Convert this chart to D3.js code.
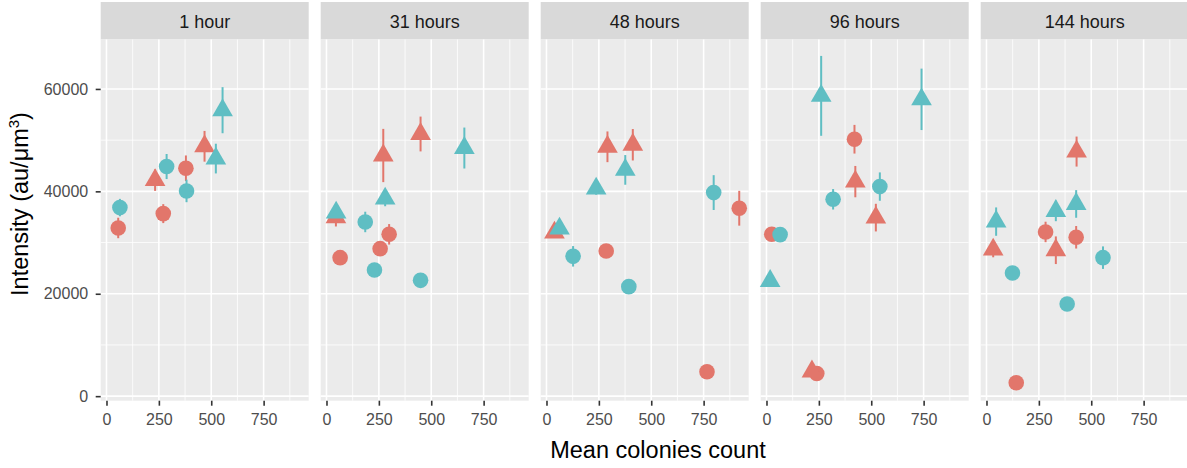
<!DOCTYPE html>
<html>
<head>
<meta charset="utf-8">
<script src="https://cdn.jsdelivr.net/npm/d3@7"></script>
<style>
  body { margin: 0; background: #fff; }
  svg { display: block; font-family: "Liberation Sans", Arial, Helvetica, sans-serif; }
</style>
</head>
<body>
<svg id="chart" width="1187" height="468"></svg>
<script>
// Facet labels, one panel per timepoint
const timepoints = ["1 hour", "31 hours", "48 hours", "96 hours", "144 hours"];
const xTicks = [0, 250, 500, 750];
const xMinor = [125, 375, 625, 875];
const yTicks = [0, 20000, 40000, 60000];
const yMinor = [10000, 30000, 50000];

// Rows: [timepoint index, mean colonies count, intensity, half-width of error bar]
const redCircles = [
  [0, 56, 32850, 2000], [0, 271, 35650, 1850], [0, 379, 44510, 2500],
  [1, 65, 27050, 500], [1, 256, 28810, 1000], [1, 299, 31610, 2000],
  [2, 285, 28350, 1300], [2, 920, 36700, 3400], [2, 766, 4770, 300],
  [3, 25, 31610, 1300], [3, 240, 4440, 300], [3, 420, 50180, 2800],
  [4, 142, 2620, 300], [4, 282, 32070, 2000], [4, 428, 31030, 2200]
];
const redTriangles = [
  [0, 232, 42190, 2100], [0, 468, 48800, 3000],
  [1, 45, 34940, 1800], [1, 271, 47000, 5200], [1, 449, 51200, 3400],
  [2, 38, 31940, 900], [2, 291, 48700, 3000], [2, 412, 49100, 3070],
  [3, 217, 4830, 400], [3, 424, 41900, 3060], [3, 522, 34870, 2700],
  [4, 32, 28620, 1500], [4, 331, 28500, 2700], [4, 430, 47770, 2930]
];
const tealCircles = [
  [0, 64, 36830, 1700], [0, 287, 44850, 2450], [0, 382, 40080, 2200],
  [1, 185, 34020, 2000], [1, 229, 24640, 400], [1, 449, 22620, 400],
  [2, 127, 27310, 2000], [2, 393, 21390, 1000], [2, 798, 39760, 3400],
  [3, 65, 31550, 1300], [3, 318, 38450, 2000], [3, 541, 40930, 2770],
  [4, 124, 24050, 400], [4, 385, 17990, 400], [4, 556, 27050, 2200]
];
const tealTriangles = [
  [0, 522, 46400, 2900], [0, 554, 55850, 4500],
  [1, 46, 35850, 800], [1, 280, 38590, 1500], [1, 658, 48460, 4000],
  [2, 62, 32720, 800], [2, 237, 40540, 1200], [2, 376, 44190, 2900],
  [3, 17.5, 22490, 1000], [3, 261, 58650, 7800], [3, 740, 57970, 6000],
  [4, 46, 34090, 2770], [4, 331, 36170, 2000], [4, 428, 37540, 2700]
];

const RED = "#E2766B", TEAL = "#5FBEC3";
const series = [
  { rows: redCircles, color: RED, shape: "circle" },
  { rows: redTriangles, color: RED, shape: "triangle" },
  { rows: tealCircles, color: TEAL, shape: "circle" },
  { rows: tealTriangles, color: TEAL, shape: "triangle" }
];

// Layout
const panelLeft = 100.7, panelW = 208, panelGap = 12;
const stripTop = 2, stripH = 37.5;
const panelTop = stripTop + stripH, panelBottom = 400.7;

// Shared scales with 5% padding on each side of the data range
const allRows = series.flatMap(s => s.rows);
const xMin = d3.min(allRows, r => r[1]), xMax = d3.max(allRows, r => r[1]);
const yMin = d3.min(allRows, r => r[2] - r[3]), yMax = d3.max(allRows, r => r[2] + r[3]);
const xPad = (xMax - xMin) * 0.05, yPad = (yMax - yMin) * 0.05;
const x = d3.scaleLinear().domain([xMin - xPad, xMax + xPad]).range([0, panelW]);
const y = d3.scaleLinear().domain([yMin - yPad, yMax + yPad]).range([panelBottom, panelTop]);

const svg = d3.select("#chart");
const triangle = d3.symbol().type(d3.symbolTriangle).size(185);

timepoints.forEach((label, i) => {
  const g = svg.append("g").attr("transform", `translate(${panelLeft + i * (panelW + panelGap)},0)`);

  // strip
  g.append("rect").attr("x", 0).attr("y", stripTop).attr("width", panelW).attr("height", stripH)
    .attr("fill", "#D9D9D9");
  g.append("text").attr("x", panelW / 2).attr("y", 28).attr("text-anchor", "middle")
    .attr("font-size", 18).attr("fill", "#1A1A1A").text(label);

  // panel background and grid
  g.append("rect").attr("x", 0).attr("y", panelTop).attr("width", panelW)
    .attr("height", panelBottom - panelTop).attr("fill", "#EBEBEB");
  const grid = g.append("g").attr("stroke", "#fff");
  grid.selectAll(".ymin").data(yMinor).join("line")
    .attr("x1", 0).attr("x2", panelW).attr("y1", d => y(d)).attr("y2", d => y(d)).attr("stroke-width", 0.8);
  grid.selectAll(".xmin").data(xMinor).join("line")
    .attr("y1", panelTop).attr("y2", panelBottom).attr("x1", d => x(d)).attr("x2", d => x(d)).attr("stroke-width", 0.8);
  grid.selectAll(".ymaj").data(yTicks).join("line")
    .attr("x1", 0).attr("x2", panelW).attr("y1", d => y(d)).attr("y2", d => y(d)).attr("stroke-width", 1.6);
  grid.selectAll(".xmaj").data(xTicks).join("line")
    .attr("y1", panelTop).attr("y2", panelBottom).attr("x1", d => x(d)).attr("x2", d => x(d)).attr("stroke-width", 1.6);

  // error bars first, then points
  const bars = g.append("g");
  const pts = g.append("g");
  series.forEach(s => {
    const rows = s.rows.filter(r => r[0] === i);
    bars.selectAll(null).data(rows).join("line")
      .attr("x1", r => x(r[1])).attr("x2", r => x(r[1]))
      .attr("y1", r => y(r[2] - r[3])).attr("y2", r => y(r[2] + r[3]))
      .attr("stroke", s.color).attr("stroke-width", 2);
  });
  series.forEach(s => {
    const rows = s.rows.filter(r => r[0] === i);
    if (s.shape === "circle") {
      pts.selectAll(null).data(rows).join("circle")
        .attr("cx", r => x(r[1])).attr("cy", r => y(r[2])).attr("r", 7.8).attr("fill", s.color);
    } else {
      pts.selectAll(null).data(rows).join("path")
        .attr("d", triangle)
        .attr("transform", r => `translate(${x(r[1])},${y(r[2])})`).attr("fill", s.color);
    }
  });

  // x axis
  const xa = g.append("g").attr("transform", `translate(0,${panelBottom})`)
    .call(d3.axisBottom(x).tickValues(xTicks).tickSize(5).tickPadding(7.5).tickFormat(d3.format("d")));
  xa.select(".domain").remove();
  xa.selectAll("line").attr("stroke", "#333").attr("stroke-width", 1.6);
  xa.selectAll("text").attr("fill", "#4D4D4D").attr("font-size", 16).attr("font-family", null);

  if (i === 0) {
    const ya = g.append("g")
      .call(d3.axisLeft(y).tickValues(yTicks).tickSize(5).tickPadding(7.5).tickFormat(d3.format("d")));
    ya.select(".domain").remove();
    ya.selectAll("line").attr("stroke", "#333").attr("stroke-width", 1.6);
    ya.selectAll("text").attr("fill", "#4D4D4D").attr("font-size", 16).attr("font-family", null);
  }
});

// axis titles
svg.append("text").attr("x", 658).attr("y", 458).attr("text-anchor", "middle")
  .attr("font-size", 23.5).attr("fill", "#000").text("Mean colonies count");

const yt = svg.append("text").attr("transform", "translate(27.5,204) rotate(-90)")
  .attr("text-anchor", "middle").attr("font-size", 23.5).attr("fill", "#000");
yt.append("tspan").text("Intensity (au/μm");
yt.append("tspan").attr("font-size", 15).attr("dy", -9).text("3");
yt.append("tspan").attr("dy", 9).text(")");
</script>
</body>
</html>
